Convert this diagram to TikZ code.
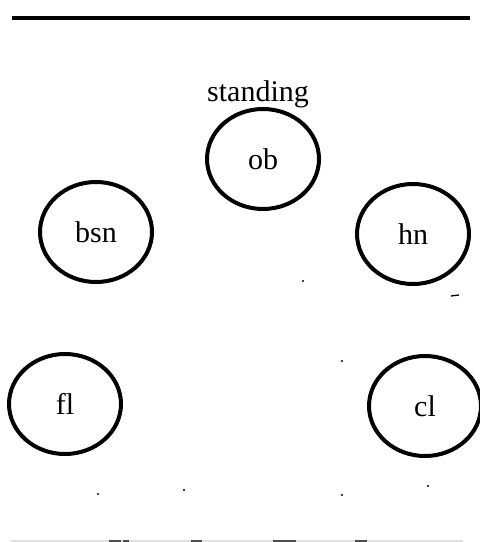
\documentclass[tikz,border=0pt]{standalone}
\usepackage{fontspec}
\setmainfont{Liberation Serif}
\usetikzlibrary{shapes.geometric}
\begin{document}
\begin{tikzpicture}[x=0.75pt,y=-0.75pt,
  voice/.style={ellipse,draw,line width=3pt,minimum width=84pt,minimum height=75pt,inner sep=0pt,font=\fontsize{22.5}{24}\selectfont},
  speck/.style={fill=black,circle,inner sep=0pt,minimum size=1.6pt},
  rule/.style={line width=3pt}]
\useasboundingbox (0,0) rectangle (479,542);
% top rule
\coordinate (tl) at (12,18);
\coordinate (tr) at (470,18);
\draw[rule] (tl) -- (tr);
% bottom faint rule with darker pieces
\coordinate (bl) at (11,541);
\coordinate (br) at (463,541);
\draw[black!12,line width=1.2pt] (bl) -- (br);
\foreach \a/\b in {109/121,123/129,191/202,273/296,355/367}
  \draw[black!70,line width=1.2pt] (\a,541) -- (\b,541);
% players
\node[voice] (ob) at (263,159) {ob};
\node[font=\fontsize{22.5}{24}\selectfont,anchor=base] (standing) at (258,101) {standing};
\node[voice] (bsn) at (96,232) {bsn};
\node[voice] (hn) at (413,234) {hn};
\node[voice] (fl) at (65,404) {fl};
\node[voice] (cl) at (425,406) {cl};
% specks
\node[speck] (s1) at (303,281) {};
\node[speck] (s2) at (342,361) {};
\node[speck] (s3) at (98,494) {};
\node[speck] (s4) at (184,490) {};
\node[speck] (s5) at (342,495) {};
\node[speck] (s6) at (428,486) {};
\coordinate (d1) at (451,296);
\coordinate (d2) at (459,295);
\draw[line width=1pt] (d1) -- (d2);
\end{tikzpicture}
\end{document}
